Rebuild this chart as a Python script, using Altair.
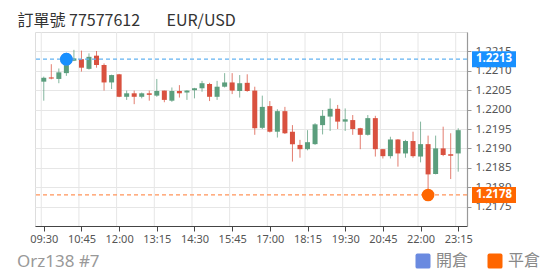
import altair as alt
import pandas as pd

# ---------------- data ----------------
DAY = "2021-05-20"
times = [t.strftime("%H:%M") for t in pd.date_range(f"{DAY} 09:30", periods=56, freq="15min")]

opens = [1.22072, 1.22083, 1.22079, 1.22094, 1.22126, 1.22130, 1.22105, 1.22139, 1.22115, 1.22070,
         1.22091, 1.22033, 1.22042, 1.22033, 1.22042, 1.22036, 1.22049, 1.22023, 1.22048, 1.22044,
         1.22050, 1.22055, 1.22066, 1.22033, 1.22059, 1.22070, 1.22048, 1.22069, 1.22049, 1.21953,
         1.22009, 1.21943, 1.21996, 1.21943, 1.21909, 1.21898, 1.21911, 1.21960, 1.21982, 1.22002,
         1.21969, 1.21973, 1.21952, 1.21935, 1.21978, 1.21898, 1.21880, 1.21923, 1.21887, 1.21919,
         1.21879, 1.21911, 1.21834, 1.21900, 1.21885, 1.21887]
highs = [1.22085, 1.22117, 1.22106, 1.22133, 1.22154, 1.22152, 1.22145, 1.22151, 1.22119, 1.22090,
         1.22092, 1.22049, 1.22049, 1.22044, 1.22049, 1.22079, 1.22049, 1.22057, 1.22063, 1.22050,
         1.22056, 1.22074, 1.22069, 1.22074, 1.22094, 1.22094, 1.22089, 1.22091, 1.22059, 1.22036,
         1.22022, 1.22001, 1.22007, 1.21960, 1.21922, 1.21947, 1.21965, 1.21999, 1.22029, 1.22012,
         1.22003, 1.21986, 1.21953, 1.21986, 1.21984, 1.21898, 1.21930, 1.21924, 1.21922, 1.21943,
         1.21969, 1.21933, 1.21933, 1.21956, 1.21939, 1.21952]
lows = [1.22023, 1.22078, 1.22068, 1.22087, 1.22125, 1.22098, 1.22103, 1.22108, 1.22049, 1.22053,
        1.22032, 1.22025, 1.22014, 1.22029, 1.22023, 1.22033, 1.22019, 1.22020, 1.22031, 1.22025,
        1.22029, 1.22046, 1.22022, 1.22025, 1.22057, 1.22040, 1.22031, 1.22046, 1.21935, 1.21950,
        1.21941, 1.21928, 1.21937, 1.21866, 1.21876, 1.21895, 1.21909, 1.21936, 1.21945, 1.21950,
        1.21945, 1.21935, 1.21898, 1.21933, 1.21879, 1.21874, 1.21874, 1.21853, 1.21876, 1.21876,
        1.21864, 1.21785, 1.21833, 1.21880, 1.21821, 1.21840]
closes = [1.22082, 1.22080, 1.22096, 1.22115, 1.22132, 1.22108, 1.22136, 1.22115, 1.22070, 1.22089,
          1.22033, 1.22042, 1.22033, 1.22042, 1.22038, 1.22048, 1.22025, 1.22048, 1.22042, 1.22049,
          1.22055, 1.22068, 1.22033, 1.22059, 1.22070, 1.22049, 1.22068, 1.22048, 1.21952, 1.22007,
          1.21943, 1.21996, 1.21939, 1.21911, 1.21898, 1.21916, 1.21962, 1.21984, 1.22002, 1.21969,
          1.21975, 1.21950, 1.21935, 1.21978, 1.21898, 1.21880, 1.21923, 1.21887, 1.21919, 1.21880,
          1.21911, 1.21833, 1.21900, 1.21883, 1.21881, 1.21947]

tick_labels = ["09:30", "10:45", "12:00", "13:15", "14:30", "15:45",
               "17:00", "18:15", "19:30", "20:45", "22:00", "23:15"]
y_ticks = [1.2175, 1.2180, 1.2185, 1.2190, 1.2195, 1.2200, 1.2205, 1.2210, 1.2215]
y_domain = [1.2170, 1.2220]

trade_types = ["開倉", "平倉"]
trade_times = ["10:15", "22:15"]
trade_prices = [1.2213, 1.2178]

title_left = "訂單號 77577612"
title_right = "EUR/USD"
footer = "Orz138 #7"

# ---------------- styling ----------------
W, H = 432, 194
GREEN, RED = "#5b9e7d", "#d9513f"
BLUE, ORANGE = "#1890ff", "#ff6600"
LEGEND_BLUE = "#6a8ae0"
BLUE_LINE, ORANGE_LINE = "#63b3f2", "#ff945a"
GRID = "#e6e6e6"
CJK = "Noto Sans CJK TC"
LAT = "Noto Sans"


def iso(hm, sec=0):
    return f"{DAY}T{hm}:{sec:02d}"


def dt(hm, sec=0):
    h, m = map(int, hm.split(":"))
    return alt.DateTime(year=2021, month=5, date=20, hours=h, minutes=m, seconds=sec)


candles = pd.DataFrame({
    "t": [iso(t) for t in times],
    "open": opens, "high": highs, "low": lows, "close": closes,
})
trades = pd.DataFrame({
    "type": trade_types,
    "t": [iso(t) for t in trade_times],
    "price": trade_prices,
})
grid_df = pd.DataFrame({
    "t": [(pd.Timestamp(iso(t)) - pd.Timedelta(minutes=5)).strftime("%Y-%m-%dT%H:%M:%S")
          for t in tick_labels]
})

xscale = alt.Scale(domain=[dt("09:22", 30), dt("23:22", 30)])
xaxis = alt.Axis(values=[dt(t) for t in tick_labels], format="%H:%M", title=None,
                 grid=False, domainColor="#444", tickColor="#444", tickSize=5,
                 labelColor="#555", labelFontSize=11, labelFont=LAT, labelPadding=2)
yscale = alt.Scale(domain=y_domain, zero=False, nice=False)
yaxis = alt.Axis(orient="right", values=y_ticks, format=".4f", title=None,
                 grid=True, gridColor=GRID, domainColor="#999", domainWidth=1.2,
                 tickColor="#999", tickSize=4, labelColor="#555", labelFontSize=11.5,
                 labelFont=LAT, labelPadding=4)


def X(field="t"):
    return alt.X(f"{field}:T", scale=xscale, axis=xaxis)


def Y(field):
    return alt.Y(f"{field}:Q", scale=yscale, axis=yaxis)


up = "datum.close >= datum.open"

vgrid = alt.Chart(grid_df).mark_rule(color=GRID, strokeWidth=1).encode(x=X())

wicks = alt.Chart(candles).mark_rule(strokeWidth=1, opacity=0.75).encode(
    x=X(), y=Y("low"), y2="high",
    color=alt.condition(up, alt.value(GREEN), alt.value(RED)),
)
bodies = alt.Chart(candles).mark_bar(size=5).encode(
    x=X(), y=Y("open"), y2="close",
    color=alt.condition(up, alt.value(GREEN), alt.value(RED)),
)

lines = alt.Chart(trades).mark_rule(strokeDash=[4, 3], strokeWidth=1.3).encode(
    y=Y("price"),
    color=alt.condition("datum.type == '開倉'", alt.value(BLUE_LINE), alt.value(ORANGE_LINE)),
)

rounded_square = ("M -0.75 -1 L 0.75 -1 Q 1 -1 1 -0.75 L 1 0.75 Q 1 1 0.75 1 "
                  "L -0.75 1 Q -1 1 -1 0.75 L -1 -0.75 Q -1 -1 -0.75 -1 Z")

dots = alt.Chart(trades).mark_circle(size=160, opacity=1).encode(
    x=X(), y=Y("price"),
    color=alt.Color("type:N", scale=alt.Scale(domain=trade_types, range=[LEGEND_BLUE, ORANGE]),
                    legend=alt.Legend(orient="none", legendX=380, legendY=221,
                                      direction="horizontal", title=None,
                                      symbolType=rounded_square, symbolSize=225,
                                      symbolStrokeWidth=0, symbolOpacity=1,
                                      labelFontSize=16, labelColor="#888", labelFont=CJK,
                                      labelOffset=5, columnPadding=18, padding=0)),
)
entry_dot = alt.Chart(trades).transform_filter("datum.type == '開倉'").mark_circle(
    size=160, opacity=1, color=BLUE).encode(x=X(), y=Y("price"))

boxes = alt.Chart(trades).mark_rect(yOffset=-8, y2Offset=8).encode(
    x=alt.value(W + 5), x2=alt.value(W + 49),
    y=Y("price"), y2="price",
    color=alt.condition("datum.type == '開倉'", alt.value(BLUE), alt.value(ORANGE)),
)
box_text = alt.Chart(trades).mark_text(color="white", fontSize=11.5, fontWeight="bold",
                                       font=LAT, align="center", baseline="middle").encode(
    x=alt.value(W + 27), y=Y("price"), text=alt.Text("price:Q", format=".4f"),
)

t1 = alt.Chart(pd.DataFrame({"s": [title_left]})).mark_text(
    align="left", baseline="alphabetic", fontSize=16, font=CJK, color="#333").encode(
    x=alt.value(-17.5), y=alt.value(-6), text="s:N")
t2 = alt.Chart(pd.DataFrame({"s": [title_right]})).mark_text(
    align="left", baseline="alphabetic", fontSize=16, font=CJK, color="#333").encode(
    x=alt.value(131.5), y=alt.value(-6), text="s:N")
t3 = alt.Chart(pd.DataFrame({"s": [footer]})).mark_text(
    align="left", baseline="alphabetic", fontSize=17, font=LAT, color="#999").encode(
    x=alt.value(-18), y=alt.value(H + 41), text="s:N")

chart = alt.layer(
    vgrid, wicks, bodies, lines, dots, entry_dot, boxes, box_text, t1, t2, t3
).properties(
    width=W, height=H,
    autosize=alt.AutoSizeParams(type="none"),
    padding={"left": 35, "top": 32, "right": 90, "bottom": 52},
).configure_view(stroke=GRID).configure(background="white")

chart.save("out.html", embed_options={"renderer": "svg", "actions": False})
